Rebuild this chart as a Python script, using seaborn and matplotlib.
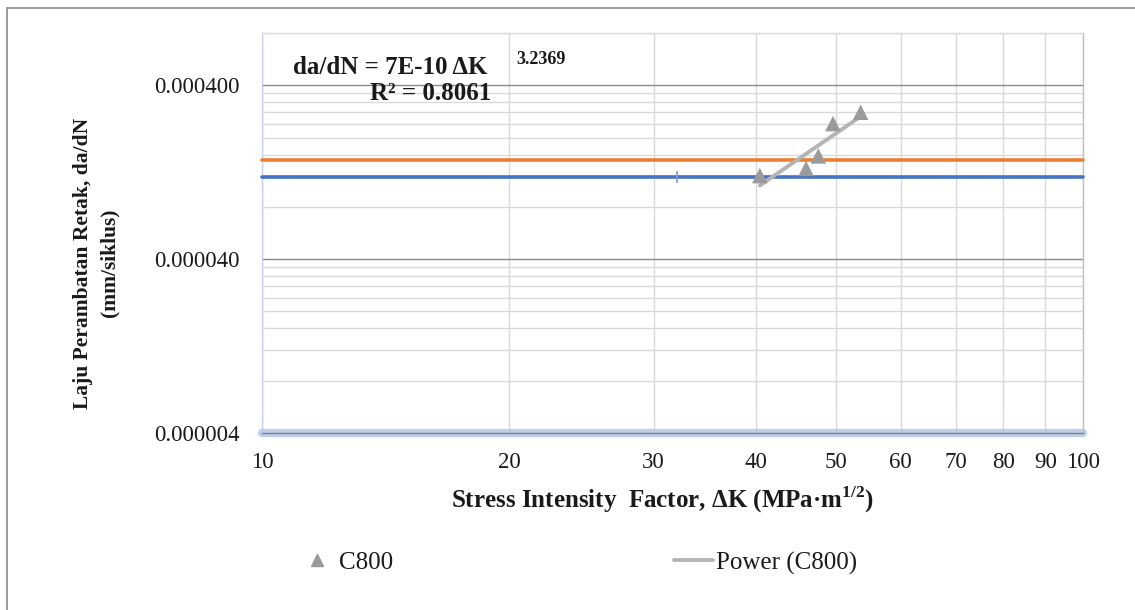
import matplotlib
matplotlib.use("Agg")
import matplotlib.pyplot as plt
import seaborn as sns
import numpy as np
import pandas as pd
from matplotlib.lines import Line2D
from matplotlib.ticker import FixedLocator, FixedFormatter, NullLocator, NullFormatter

# ---------------- data ----------------
delta_k = [40.4, 46.0, 47.6, 49.6, 53.6]
dadn = [1.21e-4, 1.33e-4, 1.57e-4, 2.41e-4, 2.80e-4]
series_name = "C800"
trend_name = "Power (C800)"
trend_coef = 6.7e-10
trend_exp = 3.2369
trend_k = [40.4, 53.6]
blue_level = 1.18e-4
orange_level = 1.48e-4
blue_mark_k = [32.0]
x_ticks = [10, 20, 30, 40, 50, 60, 70, 80, 90, 100]
x_labels = ["10", "20", "30", "40", "50", "60", "70", "80", "90", "100"]
y_major = [4e-6, 4e-5, 4e-4]
y_labels = ["0.000004", "0.000040", "0.000400"]
y_min, y_max = 4e-6, 8e-4
x_min, x_max = 10, 100
eq_text = "da/dN = 7E-10 ΔK"
eq_exp = "3.2369"
r2_text = "R² = 0.8061"
x_title = "Stress Intensity  Factor, ΔK (MPa·m$^{\\mathbf{1/2}}$)"
y_title = "Laju Perambatan Retak, da/dN\n(mm/siklus)"

# ---------------- style ----------------
sns.set_style("white")
plt.rcParams["font.family"] = ["Liberation Serif", "DejaVu Serif"]
plt.rcParams["mathtext.fontset"] = "custom"
plt.rcParams["mathtext.rm"] = "Liberation Serif"
plt.rcParams["mathtext.bf"] = "Liberation Serif:bold"

W, H = 1135, 610
fig = plt.figure(figsize=(W / 100, H / 100), dpi=100)
fig.patch.set_facecolor("white")
L, R, T, B = 262, 1083, 33, 433
ax = fig.add_axes([L / W, 1 - B / H, (R - L) / W, (B - T) / H])

ax.set_xscale("log")
ax.set_yscale("log")
ax.set_xlim(x_min, x_max)
ax.set_ylim(y_min, y_max)

# grid
ax.xaxis.set_major_locator(FixedLocator(x_ticks))
ax.xaxis.set_major_formatter(FixedFormatter(x_labels))
ax.xaxis.set_minor_locator(NullLocator())
ax.xaxis.set_minor_formatter(NullFormatter())
ax.yaxis.set_major_locator(FixedLocator(y_major))
ax.yaxis.set_major_formatter(FixedFormatter(y_labels))
minor_y = [b * k for b in y_major for k in range(2, 10) if b * k <= y_max * 1.0001]
ax.yaxis.set_minor_locator(FixedLocator(minor_y))
ax.yaxis.set_minor_formatter(NullFormatter())
ax.grid(True, axis="x", which="major", color="#d9d9d9", lw=1.0)
ax.grid(True, axis="y", which="major", color="#8a8a8a", lw=1.0)
ax.grid(True, axis="y", which="minor", color="#d9d9d9", lw=1.0)
ax.set_axisbelow(True)
ax.tick_params(axis="both", which="both", length=0)
ax.tick_params(axis="y", pad=16, labelsize=16.5, labelcolor="#1a1a1a")
ax.tick_params(axis="x", pad=14, labelsize=16.5, labelcolor="#1a1a1a")

ax.spines["top"].set_color("#d9d9d9")
ax.spines["right"].set_color("#bfbfbf")
ax.spines["left"].set_color("#c3d1ec")
ax.spines["bottom"].set_color("#7f7f7f")
for s in ax.spines.values():
    s.set_linewidth(1.0)

# glow under bottom axis
ax.axhline(y_min, color="#b4c7e7", lw=6, alpha=0.85, clip_on=False, zorder=1.5,
           solid_capstyle="round")

# horizontal level lines
ax.axhline(orange_level, color="#ED7D31", lw=2.6, zorder=3, clip_on=False)
ax.axhline(blue_level, color="#4472C4", lw=2.6, zorder=3, clip_on=False)
ax.plot(blue_mark_k, [blue_level] * len(blue_mark_k), marker="|", ms=9, mew=1.2,
        color="#7d9bd6", ls="none", zorder=3.1)

# trend line
trend_df = pd.DataFrame({"k": trend_k,
                         "v": [trend_coef * k ** trend_exp for k in trend_k]})
sns.lineplot(data=trend_df, x="k", y="v", ax=ax, color="#b4b4b4", lw=2.8,
             zorder=4, legend=False)

# data points
pts = pd.DataFrame({"k": delta_k, "v": dadn})
sns.scatterplot(data=pts, x="k", y="v", ax=ax, marker="^", s=125,
                color="#9a9a9a", edgecolor="none", zorder=5, legend=False)

ax.set_xlabel("")
ax.set_ylabel("")

# axis titles
fig.text(663 / W, 1 - 500 / H, x_title, ha="center", va="center",
         fontsize=18, fontweight="bold", color="#1a1a1a")
fig.text(96 / W, 1 - 263 / H, y_title, ha="center", va="center", rotation=90,
         fontsize=15.5, fontweight="bold", color="#1a1a1a", linespacing=1.4)

# equation
fig.text(293 / W, 1 - 67 / H, eq_text, ha="left", va="center", fontsize=18,
         fontweight="bold", color="#1a1a1a")
fig.text(516 / W, 1 - 60 / H, eq_exp, ha="left", va="center", fontsize=13,
         fontweight="bold", color="#1a1a1a")
fig.text(431 / W, 1 - 94 / H, r2_text, ha="center", va="center", fontsize=18,
         fontweight="bold", color="#1a1a1a")

# legend
handles = [Line2D([], [], marker="^", color="#9a9a9a", ls="none", ms=9),
           Line2D([], [], color="#b4b4b4", lw=2.8)]
fig.legend(handles, [series_name, trend_name], loc="center",
           bbox_to_anchor=(577 / W, 1 - 563 / H), ncol=2, frameon=False,
           fontsize=18, handlelength=1.56, handletextpad=0.12,
           columnspacing=11.2, labelcolor="#1a1a1a")

# outer chart border (top and left)
fig.add_artist(Line2D([7 / W, 1], [1 - 8 / H, 1 - 8 / H], color="#8c8c8c", lw=1.2,
                      transform=fig.transFigure))
fig.add_artist(Line2D([7 / W, 7 / W], [0, 1 - 8 / H], color="#8c8c8c", lw=1.2,
                      transform=fig.transFigure))

fig.savefig("out.png", dpi=100, facecolor="white")
